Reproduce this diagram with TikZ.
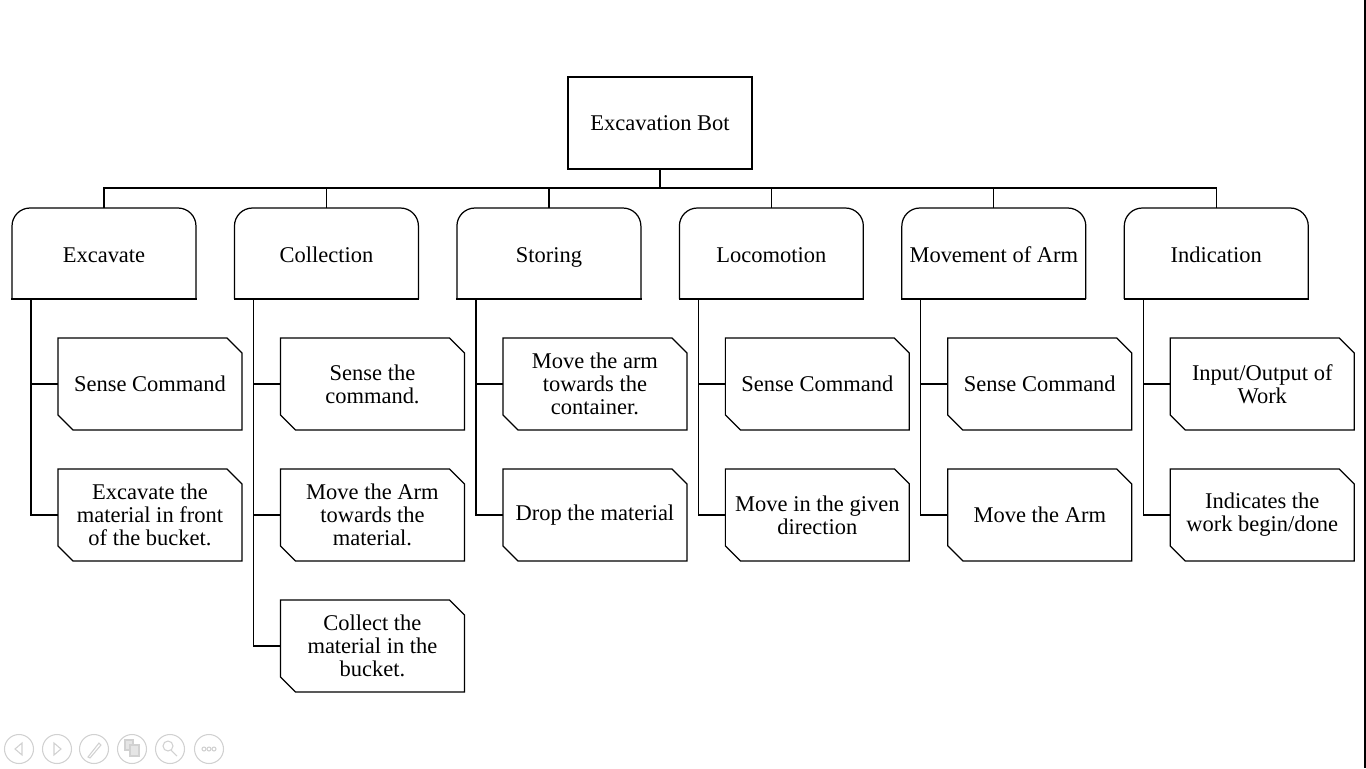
\documentclass[tikz,border=0pt]{standalone}
\usepackage{fontspec}
\setmainfont{Liberation Serif}
\usetikzlibrary{positioning}

\begin{document}
\begin{tikzpicture}[
    x=0.02cm, y=-0.02cm,
    font=\fontsize{12.8}{13}\selectfont,
    line width=0.7pt,
    node distance=0.78cm and 0.77cm,
    box/.style={draw, align=center, minimum width=3.68cm, minimum height=1.84cm, outer sep=0pt},
    cat/.style={align=center, text height=2.5ex, text depth=0.2ex, minimum width=3.68cm, minimum height=1.82cm, outer sep=0pt},
    task/.style={align=center, minimum width=3.68cm, minimum height=1.84cm, outer sep=0pt, inner sep=2pt},
    icon/.style={draw=black!18, line width=0.6pt}
]
\useasboundingbox (0,0) rectangle (1366,768);
\draw[line width=1.2pt] (1365,0) -- (1365,768);

\node[box] (root) at (660,123) {Excavation Bot};

\node[cat] (exc) at (104,253.5) {Excavate};
\node[cat, right=of exc] (col) {Collection};
\node[cat, right=of col] (sto) {Storing};
\node[cat, right=of sto] (loc) {Locomotion};
\node[cat, right=of loc] (arm) {Movement of Arm};
\node[cat, right=of arm] (ind) {Indication};

\foreach \n in {exc,col,sto,loc,arm,ind}{
    \draw[rounded corners=0.36cm] (\n.south west) -- (\n.north west) -- (\n.north east) -- (\n.south east);
    \draw[line cap=rect] (\n.south west) -- (\n.south east);
    \draw (root.south) -- +(0,-0.38cm) -| (\n.north);
}

\node[task, below=of exc, xshift=0.92cm] (exc1) {Sense Command};
\node[task, below=of exc1] (exc2) {Excavate the\\material in front\\of the bucket.};
\node[task, below=of col, xshift=0.92cm] (col1) {Sense the\\command.};
\node[task, below=of col1] (col2) {Move the Arm\\towards the\\material.};
\node[task, below=of col2] (col3) {Collect the\\material in the\\bucket.};
\node[task, below=of sto, xshift=0.92cm] (sto1) {Move the arm\\towards the\\container.};
\node[task, below=of sto1] (sto2) {Drop the material};
\node[task, below=of loc, xshift=0.92cm] (loc1) {Sense Command};
\node[task, below=of loc1] (loc2) {Move in the given\\direction};
\node[task, below=of arm, xshift=0.92cm] (arm1) {Sense Command};
\node[task, below=of arm1] (arm2) {Move the Arm};
\node[task, below=of ind, xshift=0.92cm] (ind1) {Input/Output of\\Work};
\node[task, below=of ind1] (ind2) {Indicates the\\work begin/done};

% cut corners of the task boxes
\foreach \s in {exc1,exc2,col1,col2,col3,sto1,sto2,loc1,loc2,arm1,arm2,ind1,ind2}
    \draw (\s.north west) -- ([xshift=-0.3cm]\s.north east) -- ([yshift=-0.3cm]\s.north east)
        -- (\s.south east) -- ([xshift=0.3cm]\s.south west) -- ([yshift=0.3cm]\s.south west) -- cycle;

\foreach \c/\s in {exc/exc1,exc/exc2,col/col1,col/col2,col/col3,sto/sto1,sto/sto2,
                   loc/loc1,loc/loc2,arm/arm1,arm/arm2,ind/ind1,ind/ind2}
    \draw ([xshift=0.38cm]\c.south west) |- (\s.west);

% slide controls
\foreach \x in {19,57,94,132,170,209}
    \draw[icon] (\x,749) circle (0.29cm);
\draw[icon] (22,743) -- (15,749) -- (22,755) -- cycle;
\draw[icon] (54,743) -- (61,749) -- (54,755) -- cycle;
\draw[icon] (88,757) -- (99,743) -- (101,745) -- (90,758) -- cycle;
\draw[icon, fill=black!10] (125,740) rectangle (133,750);
\draw[icon, fill=black!10] (130,745) rectangle (139,756);
\draw[icon] (168,746) circle (0.1cm);
\draw[icon] (171,750) -- (177,756);
\foreach \x in {204,209,214}
    \draw[icon] (\x,749) circle (0.04cm);
\end{tikzpicture}
\end{document}
